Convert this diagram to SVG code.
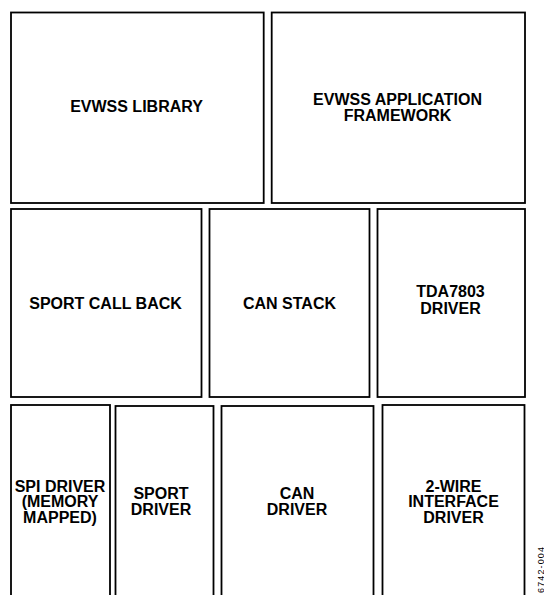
<svg xmlns="http://www.w3.org/2000/svg" width="544" height="595" viewBox="0 0 544 595">
<style>
.box{fill:#fff;stroke:#000;stroke-width:1.8}
.lbl{font-family:"Liberation Sans",Arial,sans-serif;font-weight:bold;font-size:16px;fill:#000;text-anchor:middle}
.fig{font-family:"Liberation Sans",Arial,sans-serif;font-size:9px;fill:#000;text-anchor:middle}
</style>
<rect width="544" height="595" fill="#fff"/>
<g id="evwss-library"><rect class="box" x="11" y="12.5" width="252.7" height="190.5"/><text class="lbl" x="136.5" y="111.5">EVWSS LIBRARY</text></g>
<g id="evwss-app"><rect class="box" x="271.7" y="12.5" width="253.3" height="190.5"/><text class="lbl" x="397.5" y="104.5">EVWSS APPLICATION</text><text class="lbl" x="397.5" y="120.5">FRAMEWORK</text></g>
<g id="sport-callback"><rect class="box" x="11" y="209" width="190.5" height="188"/><text class="lbl" x="105.5" y="308.5">SPORT CALL BACK</text></g>
<g id="can-stack"><rect class="box" x="209.5" y="209" width="160" height="188"/><text class="lbl" x="289.5" y="308.5">CAN STACK</text></g>
<g id="tda7803"><rect class="box" x="377.5" y="209" width="147.5" height="188"/><text class="lbl" x="450.5" y="297">TDA7803</text><text class="lbl" x="450.5" y="313.5">DRIVER</text></g>
<g id="spi-driver"><rect class="box" x="11" y="405" width="99" height="200"/><text class="lbl" x="60" y="491.5">SPI DRIVER</text><text class="lbl" x="60" y="507">(MEMORY</text><text class="lbl" x="60" y="522.5">MAPPED)</text></g>
<g id="sport-driver"><rect class="box" x="115.5" y="406" width="98" height="200"/><text class="lbl" x="161" y="499">SPORT</text><text class="lbl" x="161" y="515">DRIVER</text></g>
<g id="can-driver"><rect class="box" x="221.5" y="406" width="152" height="200"/><text class="lbl" x="297" y="499">CAN</text><text class="lbl" x="297" y="515">DRIVER</text></g>
<g id="two-wire"><rect class="box" x="382.5" y="405" width="142" height="200"/><text class="lbl" x="453.5" y="491.5">2-WIRE</text><text class="lbl" x="453.5" y="507">INTERFACE</text><text class="lbl" x="453.5" y="522.5">DRIVER</text></g>
<g id="connectors"></g>
<text class="fig" transform="translate(543.5,570) rotate(-90)" textLength="46" lengthAdjust="spacing">6742-004</text>
</svg>
